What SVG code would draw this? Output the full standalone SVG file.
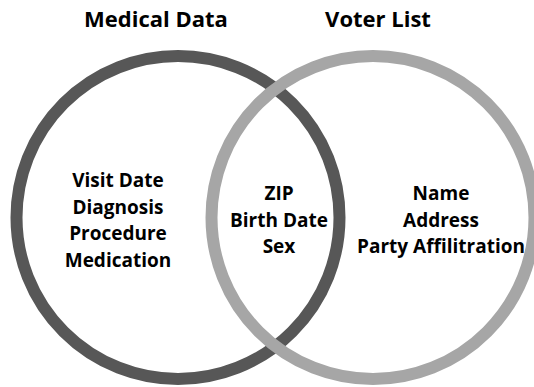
<svg xmlns="http://www.w3.org/2000/svg" width="534" height="387" viewBox="0 0 534 387">
  <style>
    .ring { fill: none; stroke-width: 12; }
    .title { font-family: "Open Sans", "Liberation Sans", sans-serif; font-weight: 700; font-size: 22px; fill: #000; text-anchor: middle; }
    .body { font-family: "Open Sans", "Liberation Sans", sans-serif; font-weight: 700; font-size: 19px; fill: #000; text-anchor: middle; }
  </style>
  <rect width="534" height="387" fill="#ffffff"/>
  <g id="connectors"/>
  <g id="medical-data">
    <circle class="ring" cx="178" cy="217.5" r="161.5" stroke="#575757"/>
    <text class="title" x="156" y="27">Medical Data</text>
    <text class="body" x="118" y="187">Visit Date</text>
    <text class="body" x="118" y="213.7">Diagnosis</text>
    <text class="body" x="118" y="240.3">Procedure</text>
    <text class="body" x="118" y="267">Medication</text>
  </g>
  <g id="voter-list">
    <circle class="ring" cx="373" cy="217.5" r="161.5" stroke="#a6a6a6"/>
    <text class="title" x="378" y="27">Voter List</text>
    <text class="body" x="441" y="200">Name</text>
    <text class="body" x="441" y="226.7">Address</text>
    <text class="body" x="441" y="253.3">Party Affilitration</text>
  </g>
  <g id="overlap">
    <text class="body" x="279" y="200">ZIP</text>
    <text class="body" x="279" y="226.7">Birth Date</text>
    <text class="body" x="279" y="253.3">Sex</text>
  </g>
</svg>
